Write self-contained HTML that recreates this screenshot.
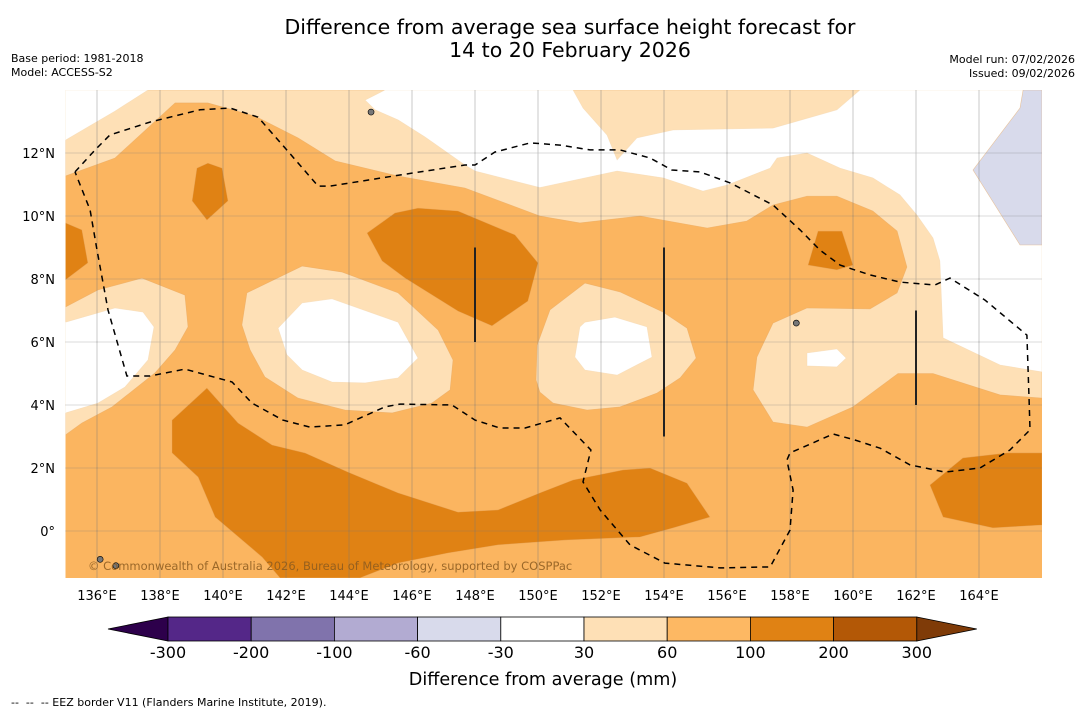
<!DOCTYPE html>
<html><head><meta charset="utf-8"><style>
body{margin:0;background:#fff;}
svg text{font-family:"DejaVu Sans","Liberation Sans",sans-serif;white-space:pre;}
</style></head><body>
<svg id="chart" width="1085" height="713" viewBox="0 0 1085 713" xmlns="http://www.w3.org/2000/svg">
<defs><clipPath id="mapclip"><rect x="65.5" y="90" width="976.5" height="488"/></clipPath></defs>
<text x="570" y="34" font-size="20.5" text-anchor="middle">Difference from average sea surface height forecast for</text>
<text x="570" y="57" font-size="20.5" text-anchor="middle">14 to 20 February 2026</text>
<text x="11" y="62" font-size="11">Base period: 1981-2018</text>
<text x="11" y="76" font-size="11">Model: ACCESS-S2</text>
<text x="1075" y="63" font-size="11" text-anchor="end">Model run: 07/02/2026</text>
<text x="1075" y="77" font-size="11" text-anchor="end">Issued: 09/02/2026</text>
<g id="map" clip-path="url(#mapclip)"></g>
<g id="axes"></g>
<g id="cbar"></g>
<text x="543" y="685" font-size="17.6" text-anchor="middle">Difference from average (mm)</text>
<text x="11" y="706" font-size="11" xml:space="preserve">--  --  -- EEZ border V11 (Flanders Marine Institute, 2019).</text>
</svg>
<script>
const lonTicks=[136,138,140,142,144,146,148,150,152,154,156,158,160,162,164];
const latTicks=[0,2,4,6,8,10,12];
const levelLabels=["-300","-200","-100","-60","-30","30","60","100","200","300"];
const levelColors=["#542788","#8073ac","#b2abd2","#d8daeb","#ffffff","#fee0b6","#fdb863","#e08214","#b35806"];
const extendLow="#2d004b", extendHigh="#7f3b08";
const PALE="#fee0b6", MID="#fbb560", DARK="#e08214", WHITE="#ffffff", LAV="#d8daeb";
const paleTop=[[135,14],[166,14],[166,4.22],[164.67,4.32],[162.54,5.0],[161.43,5.0],[160.0,3.94],[158.54,3.3],[157.46,3.46],[156.83,4.48],[156.95,5.52],[157.46,6.6],[158.54,7.08],[160.54,7.05],[161.4,7.56],[161.71,8.38],[161.4,9.52],[160.63,10.16],[159.49,10.63],[158.54,10.63],[157.46,10.35],[156.63,9.84],[155.37,9.62],[153.24,10.0],[151.33,9.78],[150.06,10.0],[147.68,10.89],[145.56,11.27],[143.56,11.75],[142.38,12.48],[141.02,13.17],[139.52,13.59],[138.48,13.59],[136.57,11.84],[135,11.27]];
const whiteCorner=[[135,14],[137.62,14],[136.57,13.33],[135,12.41]];
const whiteTop=[[145.14,14],[144.51,13.68],[144.83,13.37],[145.56,13.05],[146.41,12.51],[147.68,11.62],[148.0,11.43],[150.06,10.9],[152.51,11.43],[153.97,11.21],[155.24,10.79],[156.0,10.98],[157.37,11.52],[157.59,11.84],[158.54,12.0],[159.59,11.52],[160.63,11.21],[161.49,10.67],[162.03,10.03],[162.54,9.3],[162.76,8.57],[162.86,6.13],[164.67,5.27],[166,5.05],[166,14],[160.22,14],[159.49,13.37],[157.46,12.79],[154.29,12.73],[153.14,12.48],[152.51,11.78],[152.19,12.57],[151.43,13.43],[151.11,14]];
const lavender=[[165.4,14],[165.3,13.43],[163.81,11.46],[165.3,9.08],[166,9.08],[166,14]];
const paleLeft=[[135,7.11],[136.03,7.65],[137.43,8.03],[138.79,7.49],[138.89,6.48],[138.48,5.75],[137.84,5.02],[136.48,3.94],[135.52,3.43],[135,3.05]];
const whiteLeft=[[135,6.63],[136.57,7.08],[137.46,6.95],[137.81,6.48],[137.62,5.43],[136.89,4.57],[136.03,4.06],[135,3.75]];
const paleCL=[[140.76,7.56],[142.51,8.41],[143.78,8.22],[145.56,7.56],[146.83,6.38],[147.3,5.43],[147.21,4.48],[146.63,4.06],[145.37,3.75],[143.87,3.84],[142.38,4.22],[141.33,4.89],[140.86,5.75],[140.6,6.54]];
const whiteCL=[[142.51,7.24],[143.46,7.37],[145.56,6.63],[146.19,5.49],[145.56,4.86],[144.51,4.7],[143.46,4.73],[142.51,5.11],[142.03,5.59],[141.75,6.44]];
const paleC=[[151.49,7.87],[152.6,7.59],[153.97,6.95],[154.73,6.44],[155.02,5.49],[154.51,4.86],[153.78,4.38],[152.6,3.94],[151.56,3.84],[150.48,4.06],[150.06,4.41],[149.94,4.79],[149.97,5.9],[150.38,7.02]];
const whiteC=[[151.49,6.63],[152.44,6.79],[153.46,6.48],[153.62,5.52],[152.51,4.95],[151.49,5.11],[151.17,5.52],[151.33,6.48]];
const whiteR=[[158.54,5.65],[159.49,5.78],[159.78,5.49],[159.49,5.21],[158.54,5.24]];
const darkTL=[[139.52,11.68],[139.97,11.52],[140.16,10.48],[139.49,9.87],[139.02,10.48],[139.17,11.52]];
const darkL=[[135,9.78],[135.52,9.56],[135.71,8.51],[135,7.97]];
const darkC=[[145.46,10.1],[146.19,10.25],[147.46,10.16],[149.27,9.4],[150.0,8.51],[149.68,7.3],[148.54,6.51],[147.46,6.98],[145.78,8.03],[145.05,8.57],[144.57,9.46]];
const darkR=[[158.89,9.52],[159.65,9.52],[160.0,8.44],[159.49,8.29],[158.57,8.44]];
const darkBand=[[139.49,4.54],[140.48,3.43],[141.56,2.73],[142.6,2.48],[143.97,1.87],[145.56,1.21],[147.46,0.6],[148.73,0.67],[150.06,1.21],[151.11,1.62],[152.7,1.94],[153.56,2.0],[154.73,1.52],[155.46,0.44],[154.29,0.1],[153.24,-0.19],[150.86,-0.29],[148.73,-0.44],[147.14,-0.7],[145.56,-1.02],[144.35,-1.49],[141.81,-1.49],[141.24,-0.83],[139.75,0.44],[139.21,1.71],[138.38,2.48],[138.38,3.52]];
const darkBR=[[162.44,1.46],[163.49,2.32],[164.89,2.48],[166,2.48],[166,0.19],[164.44,0.1],[162.86,0.44]];
const eez=[[135.3,11.4],[135.94,12.1],[136.41,12.57],[137.68,12.98],[139.27,13.37],[140.22,13.43],[141.11,13.14],[141.97,12.16],[143.02,10.95],[143.4,10.95],[145.62,11.3],[147.68,11.62],[148.0,11.62],[148.63,12.03],[149.75,12.32],[150.7,12.25],[151.65,12.1],[152.6,12.1],[153.56,11.84],[154.25,11.46],[155.14,11.4],[156.1,11.05],[157.46,10.35],[158.32,9.56],[158.95,8.92],[159.59,8.44],[160.54,8.13],[161.49,7.9],[162.6,7.81],[163.08,8.03],[164.19,7.33],[165.52,6.22],[165.59,4.16],[165.62,3.21],[164.98,2.57],[164.03,2.0],[162.92,1.87],[161.81,2.1],[160.86,2.63],[160.06,2.89],[159.37,3.08],[158.0,2.48],[157.9,2.25],[158.1,1.3],[158.0,0.03],[157.37,-1.14],[155.78,-1.17],[154.03,-1.02],[152.92,-0.44],[151.97,0.67],[151.43,1.56],[151.68,2.57],[150.7,3.59],[149.59,3.27],[148.79,3.27],[148.0,3.52],[147.27,4.0],[145.62,4.03],[145.14,3.94],[143.87,3.37],[142.76,3.3],[141.9,3.52],[140.92,4.06],[140.29,4.73],[138.79,5.14],[137.68,4.92],[136.95,4.92],[136.35,7.02],[136.0,8.92],[135.78,10.19],[135.3,11.4]];
const vlineLon=[148,154,162];
const vlineLatTop=[9,9,7];
const vlineLatBot=[6,3,4];
const islands=[[144.7,13.3],[158.2,6.6],[136.1,-0.9],[136.6,-1.1]];

const NS="http://www.w3.org/2000/svg";
const X=lon=>65.5+(lon-135)*31.5;
const Y=lat=>531-lat*31.5;
function mk(tag,parent,attrs){const e=document.createElementNS(NS,tag);for(const k in attrs)e.setAttribute(k,attrs[k]);parent.appendChild(e);return e;}
const map=document.getElementById('map');
const r=mk('rect',map,{x:65.5,y:90,width:976.5,height:488,fill:MID});


function poly(pts,fill,name){
  const p=mk('polygon',map,{points:pts.map(q=>X(q[0]).toFixed(1)+','+Y(q[1]).toFixed(1)).join(' '),fill:fill,stroke:fill==WHITE?'#f3d7b0':'#e8a860','stroke-width':0.6,'stroke-opacity':0.6});
  
  
}
poly(paleTop,PALE,'contour-30-60-north');
poly(whiteCorner,WHITE,'contour-neutral-northwest');
poly(whiteTop,WHITE,'contour-neutral-north');
poly(lavender,LAV,'contour-negative-northeast');
poly(paleLeft,PALE,'contour-30-60-west');
poly(whiteLeft,WHITE,'contour-neutral-west');
poly(paleCL,PALE,'contour-30-60-center-west');
poly(whiteCL,WHITE,'contour-neutral-center-west');
poly(paleC,PALE,'contour-30-60-center');
poly(whiteC,WHITE,'contour-neutral-center');
poly(whiteR,WHITE,'contour-neutral-east');
poly(darkTL,DARK,'contour-100-200-northwest');
poly(darkL,DARK,'contour-100-200-west');
poly(darkC,DARK,'contour-100-200-center');
poly(darkR,DARK,'contour-100-200-east');
poly(darkBand,DARK,'contour-100-200-south');
poly(darkBR,DARK,'contour-100-200-southeast');
lonTicks.forEach(l=>{const g=mk('line',map,{x1:X(l),x2:X(l),y1:90,y2:578,stroke:'#777','stroke-width':0.8,'stroke-opacity':0.5});
 
 });
latTicks.forEach(l=>{const g=mk('line',map,{x1:65.5,x2:1042,y1:Y(l),y2:Y(l),stroke:'#777','stroke-width':0.8,'stroke-dasharray':'1,1','stroke-opacity':0.7});
 
 });
const e=mk('polyline',map,{points:eez.map(q=>X(q[0]).toFixed(1)+','+Y(q[1]).toFixed(1)).join(' '),fill:'none',stroke:'#000','stroke-width':1.5,'stroke-dasharray':'6,5'});


vlineLon.forEach((l,i)=>{const v=mk('line',map,{x1:X(l),x2:X(l),y1:Y(vlineLatTop[i]),y2:Y(vlineLatBot[i]),stroke:'#222','stroke-width':2});
 
 });
islands.forEach(q=>{const c=mk('ellipse',map,{cx:X(q[0]),cy:Y(q[1]),rx:3,ry:3,fill:'#777',stroke:'#000','stroke-width':0.6});
 
 });
const cp=mk('text',map,{x:88,y:570,'font-size':11.5,fill:'#8a5a20','fill-opacity':0.85});
cp.textContent='© Commonwealth of Australia 2026, Bureau of Meteorology, supported by COSPPac';


const ax=document.getElementById('axes');
lonTicks.forEach(l=>{const t=mk('text',ax,{x:X(l),y:600,'font-size':13,'text-anchor':'middle'});t.textContent=l+'°E';
 
 });
latTicks.forEach(l=>{const t=mk('text',ax,{x:55,y:Y(l)+5,'font-size':13,'text-anchor':'end'});t.textContent=l===0?'0°':l+'°N';
 
 });
const cb=document.getElementById('cbar');
const cx0=168,cw=83.2,cy=617,ch=24;
const lo=mk('polygon',cb,{points:`${cx0},${cy} 108,${cy+ch/2} ${cx0},${cy+ch}`,fill:extendLow,stroke:'#000','stroke-width':0.8});


levelColors.forEach((c,i)=>{const b=mk('rect',cb,{x:cx0+i*cw,y:cy,width:cw,height:ch,fill:c,stroke:'#000','stroke-width':0.8});
 
 });
const xe=cx0+levelColors.length*cw;
const hi=mk('polygon',cb,{points:`${xe},${cy} ${xe+60},${cy+ch/2} ${xe},${cy+ch}`,fill:extendHigh,stroke:'#000','stroke-width':0.8});


levelLabels.forEach((s,i)=>{const t=mk('text',cb,{x:cx0+i*cw,y:658,'font-size':16,'text-anchor':'middle'});t.textContent=s;
 
 });
</script>
</body></html>
